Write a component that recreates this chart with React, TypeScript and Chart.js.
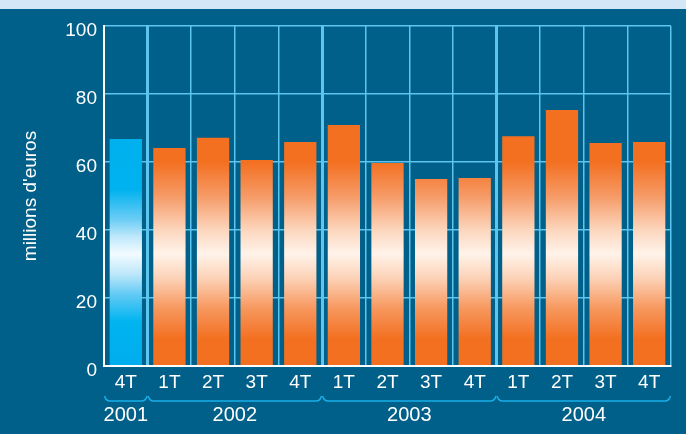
import { useEffect, useRef } from 'react';
import { Chart, registerables } from 'chart.js';

Chart.register(...registerables);

const quarters = ['4T', '1T', '2T', '3T', '4T', '1T', '2T', '3T', '4T', '1T', '2T', '3T', '4T'];
const values = [66.8, 64.1, 67.1, 60.6, 65.9, 70.9, 59.7, 55.0, 55.3, 67.6, 75.3, 65.6, 65.9];
const years = ['2001', '2002', '2003', '2004'];
const yearCounts = [1, 4, 4, 4];
const yMin = 0;
const yMax = 100;
const yStep = 20;
const yTitle = "millions d'euros";

const FONT = '"Liberation Sans", Arial, sans-serif';
const BG = '#006089';
const STRIP = '#d4e7f6';
const GRID = '#5cc6ef';
const ORANGE = '#f37021';
const BLUE = '#00adee';
const BRACE = '#19aee8';

const decor = {
  id: 'decor',
  beforeDraw(chart: any) {
    const { ctx, width, height } = chart;
    ctx.save();
    ctx.fillStyle = STRIP;
    ctx.fillRect(0, 0, width, 9);
    ctx.fillStyle = BG;
    ctx.fillRect(0, 9, width, height - 9);
    ctx.restore();
  },
  afterDraw(chart: any) {
    const { ctx } = chart;
    const x = chart.scales.x;
    const half = (x.getPixelForValue(1) - x.getPixelForValue(0)) / 2;
    ctx.save();
    ctx.strokeStyle = BRACE;
    ctx.lineWidth = 1.5;
    ctx.fillStyle = '#ffffff';
    ctx.font = '20px ' + FONT;
    ctx.textAlign = 'center';
    ctx.textBaseline = 'middle';
    let start = 0;
    years.forEach((yr, i) => {
      const n = yearCounts[i];
      const x0 = x.getPixelForValue(start) - half;
      const x1 = x.getPixelForValue(start + n - 1) + half;
      const yl = 401;
      const yt = 396;
      ctx.beginPath();
      ctx.moveTo(x0 + 0.5, yt);
      ctx.quadraticCurveTo(x0 + 2, yl, x0 + 6, yl);
      ctx.lineTo(x1 - 6, yl);
      ctx.quadraticCurveTo(x1 - 2, yl, x1 - 0.5, yt);
      ctx.stroke();
      ctx.fillText(yr, (x0 + x1) / 2, 415.5);
      start += n;
    });
    ctx.restore();
  },
};

function barFill(c: any) {
  const chart = c.chart;
  const ys = chart.scales && chart.scales.y;
  if (!chart.chartArea || !ys) return c.dataIndex === 0 ? BLUE : ORANGE;
  const top = ys.getPixelForValue(yMax);
  const bottom = ys.getPixelForValue(yMin);
  const g = chart.ctx.createLinearGradient(0, top, 0, bottom);
  if (c.dataIndex === 0) {
    g.addColorStop(0, BLUE);
    g.addColorStop(0.48, '#00b2ef');
    g.addColorStop(0.57, '#6ccdf5');
    g.addColorStop(0.62, '#bfe8fb');
    g.addColorStop(0.67, '#f2fbff');
    g.addColorStop(0.73, '#bde7fa');
    g.addColorStop(0.79, '#62caf5');
    g.addColorStop(0.87, '#00b4f0');
    g.addColorStop(1, BLUE);
  } else {
    g.addColorStop(0, ORANGE);
    g.addColorStop(0.4, ORANGE);
    g.addColorStop(0.5, '#f69a66');
    g.addColorStop(0.6, '#fcd6bd');
    g.addColorStop(0.67, '#fff3ea');
    g.addColorStop(0.74, '#fcd3b8');
    g.addColorStop(0.83, '#f7985f');
    g.addColorStop(0.92, ORANGE);
    g.addColorStop(1, ORANGE);
  }
  return g;
}

export default function App() {
  const ref = useRef<HTMLCanvasElement | null>(null);

  useEffect(() => {
    document.body.style.margin = '0';
    if (!ref.current) return;
    const chart = new Chart(ref.current, {
      type: 'bar',
      data: {
        labels: quarters,
        datasets: [
          {
            data: values,
            backgroundColor: barFill as any,
            borderWidth: 0,
            barPercentage: 0.74,
            categoryPercentage: 1,
          },
        ],
      },
      options: {
        responsive: false,
        animation: false,
        devicePixelRatio: 1,
        layout: { padding: { top: 26, right: 15, bottom: 0, left: 0 } },
        plugins: { legend: { display: false }, tooltip: { enabled: false } },
        scales: {
          x: {
            offset: true,
            grid: {
              offset: true,
              drawTicks: false,
              color: (c: any) => (c.index === 0 ? '#ffffff' : GRID),
              lineWidth: (c: any) => ([1, 5, 9, 13].includes(c.index) ? 3 : 1.5),
            },
            border: { display: true, color: '#ffffff', width: 2 },
            ticks: { color: '#ffffff', font: { family: FONT, size: 19 }, padding: 5 },
            afterFit: (s: any) => {
              s.height = 68;
            },
          },
          y: {
            min: yMin,
            max: yMax,
            ticks: {
              stepSize: yStep,
              color: '#ffffff',
              font: { family: FONT, size: 19 },
              padding: 7,
              labelOffset: 5,
            },
            grid: {
              drawTicks: false,
              color: (c: any) => (c.tick && c.tick.value === 0 ? '#ffffff' : GRID),
              lineWidth: (c: any) => (c.tick && c.tick.value === 0 ? 2 : 1.5),
            },
            border: { display: true, color: '#ffffff', width: 2 },
            title: {
              display: true,
              text: yTitle,
              color: '#ffffff',
              font: { family: FONT, size: 19 },
              padding: { top: 19, bottom: 0 },
            },
            afterFit: (s: any) => {
              s.width = 104;
            },
          },
        },
      },
      plugins: [decor],
    });
    return () => chart.destroy();
  }, []);

  return <canvas ref={ref} width={686} height={434} style={{ display: 'block' }} />;
}
